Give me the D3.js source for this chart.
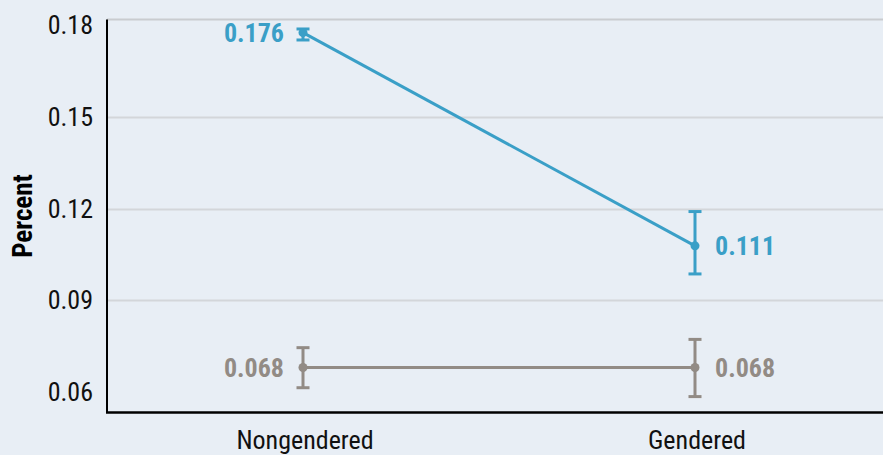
<!DOCTYPE html>
<html>
<head>
<meta charset="utf-8">
<script src="https://cdn.jsdelivr.net/npm/d3@7"></script>
<style>
  html, body { margin: 0; padding: 0; background: #e8eef5; }
  svg { display: block; }
  text { font-family: "Roboto Condensed", Roboto, "Liberation Sans", sans-serif; }
</style>
</head>
<body>
<div id="vis1"></div>
<script>
const FRAME_WIDTH = 883;
const FRAME_HEIGHT = 455;
const MARGINS = {left: 107, right: -8, top: 19.5, bottom: 42.5};

// data
const categories = ["Nongendered", "Gendered"];
const yTicks = [0.06, 0.09, 0.12, 0.15, 0.18];

const blueMean = [0.1775, 0.1078];
const blueLow = [0.1751, 0.0986];
const blueHigh = [0.1787, 0.1190];
const blueLabels = ["0.176", "0.111"];

const grayMean = [0.0680, 0.0680];
const grayLow = [0.0614, 0.0585];
const grayHigh = [0.0745, 0.0772];
const grayLabels = ["0.068", "0.068"];

const BLUE = "#3a9fc7";
const GRAY = "#928b85";

const svg = d3.select("#vis1")
    .append("svg")
    .attr("width", FRAME_WIDTH)
    .attr("height", FRAME_HEIGHT);

const xScale = d3.scalePoint()
    .domain(categories)
    .range([MARGINS.left, FRAME_WIDTH - MARGINS.right])
    .padding(0.5);

const yScale = d3.scaleLinear()
    .domain([0.06, 0.18])
    .range([392, 25]);

const plotBottom = FRAME_HEIGHT - MARGINS.bottom;

// gridlines (no line at the ends of the range)
svg.append("g")
    .selectAll("line")
    .data(yTicks.filter(d => d > 0.06 && d < 0.18))
    .enter()
    .append("line")
    .attr("x1", MARGINS.left)
    .attr("x2", FRAME_WIDTH)
    .attr("y1", d => Math.round(yScale(d)) + 0.5)
    .attr("y2", d => Math.round(yScale(d)) + 0.5)
    .attr("stroke", "#d3d6da")
    .attr("stroke-width", 2);

// top border of panel
svg.append("line")
    .attr("x1", MARGINS.left)
    .attr("x2", FRAME_WIDTH)
    .attr("y1", MARGINS.top)
    .attr("y2", MARGINS.top)
    .attr("stroke", "#c9ccd0")
    .attr("stroke-width", 2);

// y tick labels
svg.append("g")
    .selectAll("text")
    .data(yTicks)
    .enter()
    .append("text")
    .attr("x", 93)
    .attr("y", d => yScale(d))
    .attr("dy", "0.35em")
    .attr("text-anchor", "end")
    .attr("font-size", "26px")
    .attr("fill", "#111")
    .text(d => d3.format(".2f")(d));

// axis lines
svg.append("line")
    .attr("x1", MARGINS.left)
    .attr("x2", MARGINS.left)
    .attr("y1", MARGINS.top)
    .attr("y2", plotBottom)
    .attr("stroke", "#000")
    .attr("stroke-width", 2);

svg.append("line")
    .attr("x1", MARGINS.left - 1)
    .attr("x2", FRAME_WIDTH)
    .attr("y1", plotBottom)
    .attr("y2", plotBottom)
    .attr("stroke", "#000")
    .attr("stroke-width", 2.5);

// x category labels
svg.append("g")
    .selectAll("text")
    .data(categories)
    .enter()
    .append("text")
    .attr("x", d => xScale(d) + 2)
    .attr("y", 449)
    .attr("text-anchor", "middle")
    .attr("font-size", "26px")
    .attr("fill", "#111")
    .text(d => d);

// y title
svg.append("text")
    .attr("transform", "translate(32, 216) rotate(-90)")
    .attr("text-anchor", "middle")
    .attr("font-size", "27px")
    .attr("font-weight", "bold")
    .attr("fill", "#000")
    .text("Percent");

function drawSeries(mean, low, high, labels, color) {
    const g = svg.append("g");
    const pts = categories.map((c, i) => ({c: c, m: mean[i], lo: low[i], hi: high[i], lab: labels[i], i: i}));

    g.append("path")
        .datum(pts)
        .attr("fill", "none")
        .attr("stroke", color)
        .attr("stroke-width", 3)
        .attr("d", d3.line().x(d => xScale(d.c)).y(d => yScale(d.m)));

    // error bars
    g.selectAll(".eb")
        .data(pts)
        .enter()
        .append("line")
        .attr("x1", d => xScale(d.c))
        .attr("x2", d => xScale(d.c))
        .attr("y1", d => yScale(d.lo))
        .attr("y2", d => yScale(d.hi))
        .attr("stroke", color)
        .attr("stroke-width", 3);

    ["lo", "hi"].forEach(k => {
        g.selectAll(".cap-" + k)
            .data(pts)
            .enter()
            .append("line")
            .attr("x1", d => xScale(d.c) - 6.5)
            .attr("x2", d => xScale(d.c) + 6.5)
            .attr("y1", d => yScale(d[k]))
            .attr("y2", d => yScale(d[k]))
            .attr("stroke", color)
            .attr("stroke-width", 3);
    });

    g.selectAll("circle")
        .data(pts)
        .enter()
        .append("circle")
        .attr("cx", d => xScale(d.c))
        .attr("cy", d => yScale(d.m))
        .attr("r", 4.5)
        .attr("fill", color);

    g.selectAll("text")
        .data(pts)
        .enter()
        .append("text")
        .attr("x", d => xScale(d.c) + (d.i === 0 ? -19 : 20))
        .attr("y", d => yScale(d.m))
        .attr("dy", "0.35em")
        .attr("text-anchor", d => d.i === 0 ? "end" : "start")
        .attr("font-size", "26px")
        .attr("font-weight", "bold")
        .attr("fill", color)
        .text(d => d.lab);
}

drawSeries(grayMean, grayLow, grayHigh, grayLabels, GRAY);
drawSeries(blueMean, blueLow, blueHigh, blueLabels, BLUE);
</script>
</body>
</html>
